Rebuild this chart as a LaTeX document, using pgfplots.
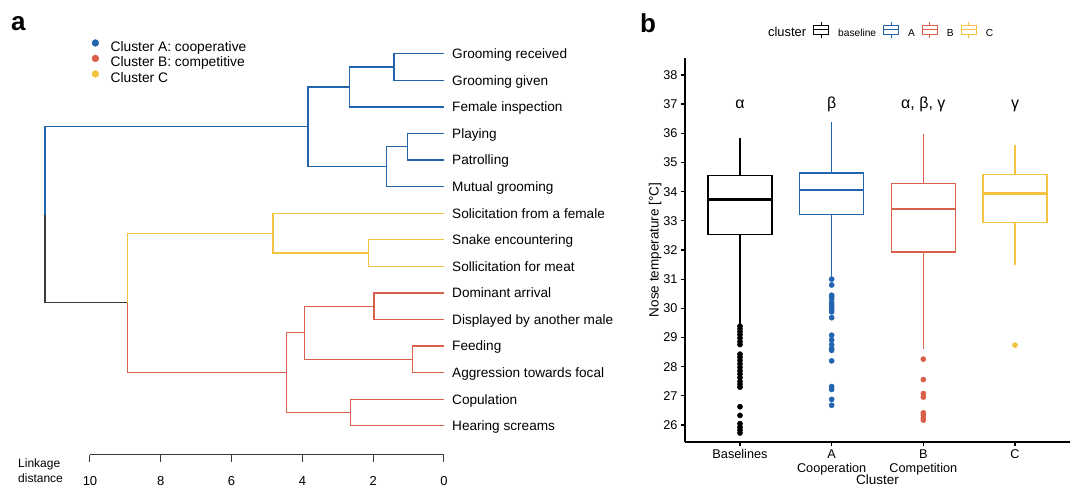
\documentclass[border=0pt]{standalone}
\usepackage{pgfplots}
\pgfplotsset{compat=1.18}
\usepackage{fontspec}
\setmainfont{Liberation Sans}
\definecolor{cA}{HTML}{2264AE}
\definecolor{cB}{HTML}{D95F4B}
\definecolor{cC}{HTML}{F6C241}
\definecolor{cK}{HTML}{3A3A3A}
\newcommand{\fsz}[2]{\fontsize{#1}{#2}\selectfont}
\newcommand{\boxkey}[1]{%
  \draw[#1, line width=1pt] (0pt,-1pt) rectangle (15pt,8pt);
  \draw[#1, line width=1pt] (0pt,3.5pt) -- (15pt,3.5pt);
  \draw[#1, line width=1pt] (7.5pt,8pt) -- (7.5pt,11.5pt);
  \draw[#1, line width=1pt] (7.5pt,-1pt) -- (7.5pt,-4.5pt);}
% box: #1 colour, #2 position, #3 left, #4 right, #5 lower whisker, #6 Q1, #7 median, #8 Q3, #9 upper whisker
\newcommand{\bxp}[9]{%
  \addplot[#1, line width=1.2pt, forget plot] coordinates {(#2,#6) (#2,#5)};
  \addplot[#1, line width=1.2pt, forget plot] coordinates {(#2,#8) (#2,#9)};
  \addplot[#1, line width=1.2pt, line cap=rect, line join=miter, forget plot]
    coordinates {(#3,#6) (#4,#6) (#4,#8) (#3,#8) (#3,#6)};
  \addplot[#1, line width=2.4pt, forget plot] coordinates {(#3,#7) (#4,#7)};}
\begin{document}
\begin{tikzpicture}[x=1pt,y=1pt]
\useasboundingbox (0,0) rectangle (1077,487);
\node[anchor=base west, font=\fsz{26}{28}\bfseries, inner sep=0] at (11,456) {a};
\node[anchor=base west, font=\fsz{26}{28}\bfseries, inner sep=0] at (640,454) {b};

% ---------------- panel a: dendrogram ----------------
\begin{axis}[
  at={(267pt,32pt)}, anchor=south,
  scale only axis, width=354pt, height=427.8pt,
  x dir=reverse, xmin=0, xmax=10, ymin=-16.1, ymax=0,
  clip=false, no markers,
  axis x line*=bottom, axis y line=none,
  xtick={0,2,...,10}, tick align=outside, major tick length=7pt,
  axis line style={line width=1pt, cK},
  xtick style={line width=1pt, cK},
  tick label style={font=\fsz{13}{14}},
  xticklabel style={yshift=-11pt},
  /pgf/number format/assume math mode=true,
  legend style={at={(axis cs:9.955,-0.45)}, anchor=north west, draw=none, fill=none,
    inner sep=0pt, font=\fsz{13.8}{15}, row sep=0.5pt,
    nodes={inner sep=0pt, text height=10pt, text depth=3pt},
    /tikz/every odd column/.append style={column sep=11.6pt}},
  legend cell align=left,
]
\addlegendimage{legend image code/.code={\fill[cA] (3.4pt,4.9pt) circle (3.4pt);}}
\addlegendentry{Cluster A: cooperative}
\addlegendimage{legend image code/.code={\fill[cB] (3.4pt,4.9pt) circle (3.4pt);}}
\addlegendentry{Cluster B: competitive}
\addlegendimage{legend image code/.code={\fill[cC] (3.4pt,4.9pt) circle (3.4pt);}}
\addlegendentry{Cluster C}
% cluster A
\addplot[cA, line width=1.2pt, forget plot] coordinates {(0,-1) (1.41,-1) (1.41,-2) (0,-2)};
\addplot[cA, line width=1.2pt, forget plot] coordinates {(1.41,-1.5) (2.68,-1.5) (2.68,-3) (0,-3)};
\addplot[cA, line width=1.2pt, forget plot] coordinates {(0,-4) (1.04,-4) (1.04,-5) (0,-5)};
\addplot[cA, line width=1.2pt, forget plot] coordinates {(1.04,-4.5) (1.63,-4.5) (1.63,-6) (0,-6)};
\addplot[cA, line width=1.2pt, forget plot] coordinates {(2.68,-2.25) (3.84,-2.25) (3.84,-5.25) (1.63,-5.25)};
\addplot[cA, line width=1.2pt, forget plot] coordinates {(3.84,-3.75) (11.27,-3.75) (11.27,-7.06)};
% root to B+C
\addplot[cK, line width=1.2pt, forget plot] coordinates {(11.27,-7.06) (11.27,-10.375) (8.95,-10.375)};
% cluster C
\addplot[cC, line width=1.2pt, forget plot] coordinates {(8.95,-10.375) (8.95,-7.75) (4.83,-7.75)};
\addplot[cC, line width=1.2pt, forget plot] coordinates {(0,-7) (4.83,-7) (4.83,-8.5) (2.13,-8.5)};
\addplot[cC, line width=1.2pt, forget plot] coordinates {(0,-8) (2.13,-8) (2.13,-9) (0,-9)};
% cluster B
\addplot[cB, line width=1.2pt, forget plot] coordinates {(8.95,-10.375) (8.95,-13) (4.45,-13)};
\addplot[cB, line width=1.2pt, forget plot] coordinates {(3.95,-11.5) (4.45,-11.5) (4.45,-14.5) (2.63,-14.5)};
\addplot[cB, line width=1.2pt, forget plot] coordinates {(1.98,-10.5) (3.95,-10.5) (3.95,-12.5) (0.90,-12.5)};
\addplot[cB, line width=1.2pt, forget plot] coordinates {(0,-10) (1.98,-10) (1.98,-11) (0,-11)};
\addplot[cB, line width=1.2pt, forget plot] coordinates {(0,-12) (0.90,-12) (0.90,-13) (0,-13)};
\addplot[cB, line width=1.2pt, forget plot] coordinates {(0,-14) (2.63,-14) (2.63,-15) (0,-15)};
% leaf labels
\begin{scope}[every node/.style={anchor=base west, inner sep=0pt, xshift=8pt, yshift=-4.9pt, font=\fsz{13.6}{15}}]
\node at (axis cs:0,-1) {Grooming received};
\node at (axis cs:0,-2) {Grooming given};
\node at (axis cs:0,-3) {Female inspection};
\node at (axis cs:0,-4) {Playing};
\node at (axis cs:0,-5) {Patrolling};
\node at (axis cs:0,-6) {Mutual grooming};
\node at (axis cs:0,-7) {Solicitation from a female};
\node at (axis cs:0,-8) {Snake encountering};
\node at (axis cs:0,-9) {Sollicitation for meat};
\node at (axis cs:0,-10) {Dominant arrival};
\node at (axis cs:0,-11) {Displayed by another male};
\node at (axis cs:0,-12) {Feeding};
\node at (axis cs:0,-13) {Aggression towards focal};
\node at (axis cs:0,-14) {Copulation};
\node at (axis cs:0,-15) {Hearing screams};
\end{scope}
\end{axis}
\node[anchor=west, align=left, inner sep=0pt, font=\fsz{12}{15}] at (18,16.5) {Linkage\\distance};

% ---------------- panel b: boxplots ----------------
\begin{axis}[
  at={(685pt,45pt)}, anchor=south west,
  scale only axis, width=385pt, height=384pt,
  xmin=0.4, xmax=4.6, ymin=25.42, ymax=38.58,
  clip=false,
  axis x line*=bottom, axis y line*=left,
  axis line style={line width=1.2pt, black},
  xtick={1,2,3,4},
  xticklabels={Baselines, {A\\Cooperation}, {B\\Competition}, C},
  xticklabel style={align=center},
  ytick={26,27,...,38},
  tick align=outside, major tick length=4pt,
  tick style={line width=1.2pt, black},
  tick label style={font=\fsz{12.7}{14}},
  /pgf/number format/assume math mode=true,
  ylabel={Nose temperature [°C]},
  xlabel={Cluster},
  ylabel style={at={(axis description cs:-0.0779,0.5)}, anchor=center, font=\fsz{13.5}{15}},
  xlabel style={at={(axis description cs:0.5,0)}, anchor=center, yshift=-38pt, font=\fsz{13.5}{15}},
  legend columns=-1,
  legend style={at={(axis cs:1.207,39.54)}, anchor=west, draw=none, fill=none,
    inner sep=0pt, font=\fsz{10.2}{12},
    nodes={inner sep=0pt, text height=9pt, text depth=2.5pt},
    /tikz/every odd column/.append style={column sep=9pt},
    /tikz/every even column/.append style={column sep=7pt}},
]
\addlegendimage{empty legend}
\addlegendentry{\fsz{12.9}{14}cluster}
\addlegendimage{legend image code/.code={\boxkey{black}}}
\addlegendentry{baseline}
\addlegendimage{legend image code/.code={\boxkey{cA}}}
\addlegendentry{A}
\addlegendimage{legend image code/.code={\boxkey{cB}}}
\addlegendentry{B}
\addlegendimage{legend image code/.code={\boxkey{cC}}}
\addlegendentry{C}

% outliers
\addplot[forget plot, only marks, mark=*, mark size=2.6pt, black, mark options={fill=black, draw=black}]
  coordinates {(1,29.39) (1,29.30) (1,29.20) (1,29.10) (1,28.98) (1,28.86) (1,28.76)
    (1,28.43) (1,28.33) (1,28.22) (1,28.10) (1,27.98) (1,27.86) (1,27.75) (1,27.63)
    (1,27.50) (1,27.40) (1,27.30) (1,26.63) (1,26.33) (1,26.05) (1,25.93) (1,25.83) (1,25.73)};
\addplot[forget plot, only marks, mark=*, mark size=2.6pt, cA, mark options={fill=cA, draw=cA}]
  coordinates {(2,31.00) (2,30.80) (2,30.45) (2,30.39) (2,30.32) (2,30.20) (2,30.12)
    (2,30.04) (2,29.96) (2,29.88) (2,29.68) (2,29.08) (2,28.92) (2,28.76) (2,28.62)
    (2,28.56) (2,28.20) (2,27.32) (2,27.22) (2,26.88) (2,26.68)};
\addplot[forget plot, only marks, mark=*, mark size=2.6pt, cB, mark options={fill=cB, draw=cB}]
  coordinates {(3,28.26) (3,27.56) (3,27.08) (3,26.96) (3,26.42) (3,26.33) (3,26.24) (3,26.17)};
\addplot[forget plot, only marks, mark=*, mark size=2.6pt, cC, mark options={fill=cC, draw=cC}]
  coordinates {(4,28.74)};

% boxes
\bxp{black}{1}{0.65}{1.35}{29.45}{32.52}{33.73}{34.55}{35.84}
\bxp{cA}{2}{1.65}{2.35}{31.08}{33.21}{34.06}{34.64}{36.37}
\bxp{cB}{3}{2.65}{3.35}{28.62}{31.93}{33.40}{34.28}{35.99}
\bxp{cC}{4}{3.65}{4.35}{31.48}{32.93}{33.93}{34.59}{35.59}

\begin{scope}[every node/.style={anchor=base, inner sep=0pt, yshift=-4.2pt, font=\fsz{16}{18}}]
\node at (axis cs:1,37) {α};
\node at (axis cs:2,37) {β};
\node at (axis cs:3,37) {α, β, γ};
\node at (axis cs:4,37) {γ};
\end{scope}
\end{axis}
\end{tikzpicture}
\end{document}
